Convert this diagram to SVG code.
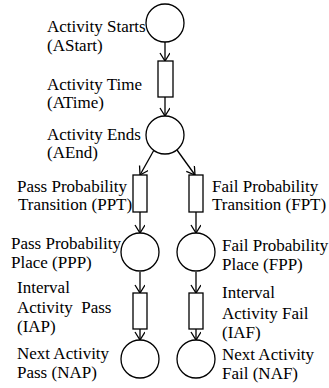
<svg xmlns="http://www.w3.org/2000/svg" width="329" height="388" viewBox="0 0 329 388">
<style>
.p{fill:#fff;stroke:#000;stroke-width:1.3}
.t{fill:#fff;stroke:#000;stroke-width:1.3}
.c{stroke:#000;stroke-width:1.3;fill:none;marker-end:url(#a)}
text{font-family:'Liberation Serif','Times New Roman','DejaVu Serif',serif;font-size:17px;fill:#000}
</style>
<defs>
<marker id="a" markerWidth="12" markerHeight="12" refX="9" refY="5" orient="auto" markerUnits="userSpaceOnUse">
<path d="M1,0 L9,5 L1,10" fill="none" stroke="#000" stroke-width="1.3"/>
</marker>
</defs>
<rect width="329" height="388" fill="#fff"/>
<g id="connectors">
<line class="c" x1="165" y1="42" x2="165" y2="61"/>
<line class="c" x1="165" y1="97" x2="165" y2="116"/>
<line class="c" x1="154" y1="150" x2="140" y2="175"/>
<line class="c" x1="177" y1="150" x2="195" y2="175"/>
<line class="c" x1="140" y1="212" x2="140" y2="233"/>
<line class="c" x1="196" y1="212" x2="196" y2="233"/>
<line class="c" x1="140" y1="272" x2="140" y2="293"/>
<line class="c" x1="196" y1="272" x2="196" y2="293"/>
<line class="c" x1="140" y1="329" x2="140" y2="340"/>
<line class="c" x1="196" y1="329" x2="196" y2="340"/>
</g>
<g id="AStart"><circle class="p" cx="165" cy="23" r="19"/><text x="47" y="32" font-family="Liberation Serif, serif">Activity Starts</text><text x="47" y="51">(AStart)</text></g>
<g id="ATime"><rect class="t" x="158" y="61" width="15" height="36"/><text x="47" y="90">Activity Time</text><text x="47" y="108">(ATime)</text></g>
<g id="AEnd"><circle class="p" cx="165" cy="135" r="19"/><text x="47" y="140">Activity Ends</text><text x="47" y="158">(AEnd)</text></g>
<g id="PPT"><rect class="t" x="133" y="175" width="14" height="37"/><text x="17" y="192">Pass Probability</text><text x="18" y="210">Transition (PPT)</text></g>
<g id="FPT"><rect class="t" x="189" y="175" width="14" height="37"/><text x="212" y="192">Fail Probability</text><text x="212" y="210">Transition (FPT)</text></g>
<g id="PPP"><circle class="p" cx="140" cy="252" r="19"/><text x="11" y="249">Pass Probability</text><text x="11" y="268">Place (PPP)</text></g>
<g id="FPP"><circle class="p" cx="196" cy="252" r="19"/><text x="222" y="251">Fail Probability</text><text x="222" y="270">Place (FPP)</text></g>
<g id="IAP"><rect class="t" x="133" y="293" width="14" height="36"/><text x="17" y="293">Interval</text><text x="17" y="313" xml:space="preserve">Activity  Pass</text><text x="17" y="332">(IAP)</text></g>
<g id="IAF"><rect class="t" x="189" y="293" width="14" height="36"/><text x="222" y="298">Interval</text><text x="222" y="319">Activity Fail</text><text x="222" y="338">(IAF)</text></g>
<g id="NAP"><circle class="p" cx="140" cy="359" r="19"/><text x="17" y="359">Next Activity</text><text x="17" y="378">Pass (NAP)</text></g>
<g id="NAF"><circle class="p" cx="196" cy="359" r="19"/><text x="222" y="360">Next Activity</text><text x="222" y="379">Fail (NAF)</text></g>
</svg>
